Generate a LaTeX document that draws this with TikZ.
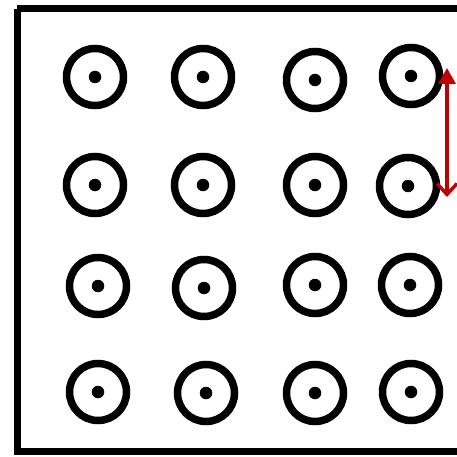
\documentclass[tikz,border=0pt]{standalone}
\usetikzlibrary{arrows.meta}
\definecolor{arrowred}{HTML}{C00000}
\tikzset{
  ring/.style={circle, draw=black, line width=7.5pt, minimum size=57pt, inner sep=0pt},
  dotc/.style={circle, fill=black, minimum size=12.5pt, inner sep=0pt},
  framebox/.style={draw=black, line width=7pt},
  dimarrow/.style={draw=arrowred, line width=3.4pt,
    arrows={Triangle[width=17pt,length=16pt]-Straight Barb[width=20pt,length=11pt,line width=3.4pt]}}
}
\begin{document}
\begin{tikzpicture}[x=1pt,y=-1pt]
\useasboundingbox (0,0) rectangle (456,457);
\draw[framebox] (17,9) -- (470,9) (17,9) -- (17,451) -- (470,451);
% rows
\foreach \r/\y/\xa/\xb/\xc/\xd/\ya/\yb/\yc/\yd in {
  1/77/95/203/315/411/77/77/80/76,
  2/185/95/203/315/408/185/185/185/186,
  3/286/98/204/315/410/286/288/285/285,
  4/392/98/206/315/411/392/393/393/392}{
  \node[ring] (c\r1) at (\xa,\ya) {};
  \node[ring] (c\r2) at (\xb,\yb) {};
  \node[ring] (c\r3) at (\xc,\yc) {};
  \node[ring] (c\r4) at (\xd,\yd) {};
  \node[dotc] (d\r1) at (c\r1.center) {};
  \node[dotc] (d\r2) at (c\r2.center) {};
  \node[dotc] (d\r3) at (c\r3.center) {};
  \node[dotc] (d\r4) at (c\r4.center) {};
}
\coordinate (atop) at (447,68);
\coordinate (abot) at (447,197);
\draw[dimarrow] (atop) -- (abot);
\end{tikzpicture}
\end{document}
